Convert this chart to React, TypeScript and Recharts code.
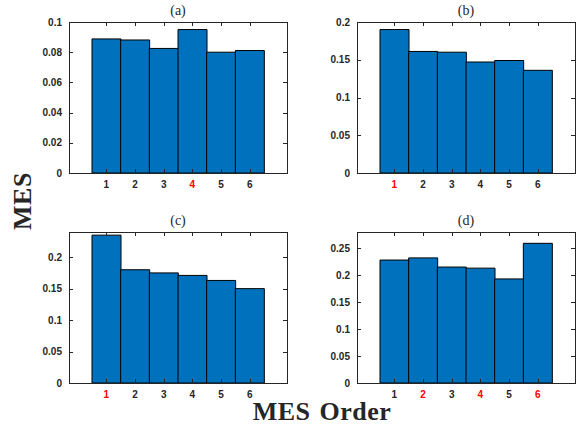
import { BarChart, Bar, XAxis, YAxis } from 'recharts';

// MES per order, one array per sub-figure
const orders = ['1', '2', '3', '4', '5', '6'];
const mesA = [0.0888, 0.0881, 0.0825, 0.095, 0.08, 0.0811];
const mesB = [0.19, 0.161, 0.16, 0.147, 0.149, 0.136];
const mesC = [0.235, 0.18, 0.175, 0.171, 0.163, 0.15];
const mesD = [0.228, 0.232, 0.215, 0.213, 0.193, 0.259];

// orders whose tick label is highlighted
const redA = ['4'];
const redB = ['1'];
const redC = ['1'];
const redD = ['2', '4', '6'];

const ticksA = [0, 0.02, 0.04, 0.06, 0.08, 0.1];
const ticksB = [0, 0.05, 0.1, 0.15, 0.2];
const ticksC = [0, 0.05, 0.1, 0.15, 0.2];
const ticksD = [0, 0.05, 0.1, 0.15, 0.2, 0.25];

const titles = ['(a)', '(b)', '(c)', '(d)'];
const maxY = [0.1, 0.2, 0.24, 0.28];

const AX = '#262626';
const TICK_FONT = '"Liberation Sans", Arial, Helvetica, sans-serif';
const SERIF = '"Liberation Serif", "Times New Roman", serif';

// plot-area size and the offsets around it
const PW = 218;
const PH = 151;
const L = 60;
const T = 22;
const R = 6;
const B = 28;
const XM = 8; // gap between x axis and its labels
const YM = 7; // gap between y axis and its labels
const TK = 4; // inward tick length

type PanelProps = {
  title: string;
  values: number[];
  red: string[];
  ticks: number[];
  max: number;
  x: number;
  y: number;
};

function Panel({ title, values, red, ticks, max, x, y }: PanelProps) {
  const data = orders.map((o, i) => ({ order: o, mes: values[i] }));

  // label plus inward tick marks on both the bottom and the top edge
  const xTick = (p: any) => {
    const base = Number(p.y) - XM;
    const cx = Math.round(Number(p.x)) + 0.5;
    return (
      <g>
        <path
          d={`M${cx},${base}v${-TK}M${cx},${base - PH}v${TK}`}
          stroke={AX}
          strokeWidth={1}
          fill="none"
          shapeRendering="crispEdges"
        />
        <text
          x={p.x}
          y={p.y}
          dy="0.71em"
          textAnchor="middle"
          fontFamily={TICK_FONT}
          fontWeight="bold"
          fontSize={10}
          fill={red.includes(p.payload.value) ? '#ff0000' : AX}
        >
          {p.payload.value}
        </text>
      </g>
    );
  };
  // label plus inward tick marks on both the left and the right edge
  const yTick = (p: any) => {
    const base = Number(p.x) + YM;
    const cy = Math.round(Number(p.y)) + 0.5;
    return (
      <g>
        <path
          d={`M${base},${cy}h${TK}M${base + PW},${cy}h${-TK}`}
          stroke={AX}
          strokeWidth={1}
          fill="none"
          shapeRendering="crispEdges"
        />
        <text
          x={p.x}
          y={p.y}
          dy="0.35em"
          textAnchor="end"
          fontFamily={TICK_FONT}
          fontWeight="bold"
          fontSize={10}
          fill={AX}
        >
          {p.payload.value}
        </text>
      </g>
    );
  };

  return (
    <div style={{ position: 'absolute', left: x - L, top: y - T, width: PW + L + R, height: PH + T + B }}>
      <BarChart
        width={PW + L + R}
        height={PH + T + B}
        data={data}
        margin={{ top: T, right: R, bottom: 0, left: 0 }}
        barCategoryGap={0}
      >
        <XAxis
          xAxisId="bottom"
          dataKey="order"
          height={B}
          interval={0}
          padding={{ left: 23, right: 23 }}
          tickSize={0}
          tickMargin={XM}
          axisLine={false}
          tickLine={false}
          tick={xTick}
        />
        <YAxis
          yAxisId="left"
          type="number"
          width={L}
          domain={[0, max]}
          ticks={ticks}
          interval={0}
          tickSize={0}
          tickMargin={YM}
          axisLine={false}
          tickLine={false}
          tick={yTick}
        />
        <Bar
          xAxisId="bottom"
          yAxisId="left"
          dataKey="mes"
          fill="#0072BD"
          stroke="#000000"
          strokeWidth={1}
          isAnimationActive={false}
        />
      </BarChart>
      {/* axes box, laid over the plot area */}
      <div
        style={{
          position: 'absolute',
          left: L,
          top: T,
          width: PW + 1,
          height: PH + 1,
          boxSizing: 'border-box',
          border: `1px solid ${AX}`,
          pointerEvents: 'none',
        }}
      />
      <div
        style={{
          position: 'absolute',
          left: L,
          width: PW,
          top: T - 19,
          textAlign: 'center',
          fontFamily: SERIF,
          fontSize: 14,
          lineHeight: '16px',
          color: AX,
        }}
      >
        {title}
      </div>
    </div>
  );
}

export default function App() {
  return (
    <div style={{ position: 'absolute', left: 0, top: 0, width: 580, height: 428, background: '#fff' }}>
      <Panel title={titles[0]} values={mesA} red={redA} ticks={ticksA} max={maxY[0]} x={69} y={22} />
      <Panel title={titles[1]} values={mesB} red={redB} ticks={ticksB} max={maxY[1]} x={357} y={22} />
      <Panel title={titles[2]} values={mesC} red={redC} ticks={ticksC} max={maxY[2]} x={69} y={232} />
      <Panel title={titles[3]} values={mesD} red={redD} ticks={ticksD} max={maxY[3]} x={357} y={232} />
      <div
        style={{
          position: 'absolute',
          left: 23,
          top: 201,
          transform: 'translate(-50%, -50%) rotate(-90deg)',
          fontFamily: SERIF,
          fontWeight: 'bold',
          fontSize: 26,
          lineHeight: '26px',
          letterSpacing: 0.5,
          whiteSpace: 'nowrap',
          color: AX,
        }}
      >
        MES
      </div>
      <div
        style={{
          position: 'absolute',
          left: 322,
          top: 412,
          transform: 'translate(-50%, -50%)',
          fontFamily: SERIF,
          fontWeight: 'bold',
          fontSize: 26,
          lineHeight: '26px',
          letterSpacing: 0.5,
          wordSpacing: 2,
          whiteSpace: 'nowrap',
          color: AX,
        }}
      >
        MES Order
      </div>
    </div>
  );
}
